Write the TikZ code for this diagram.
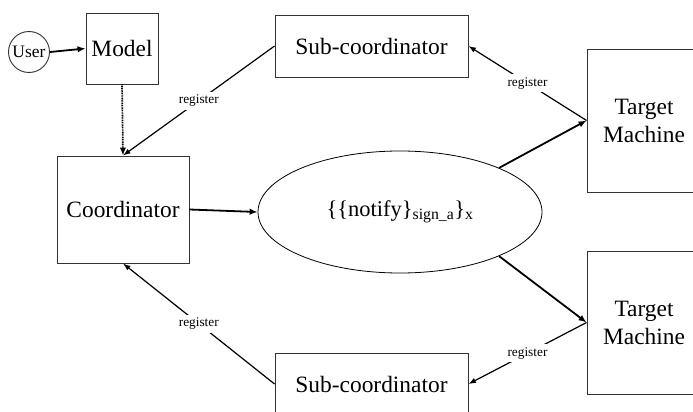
\documentclass[tikz,border=0pt]{standalone}
\usepackage{fontspec}
\setmainfont{Liberation Serif}
\usetikzlibrary{arrows.meta,shapes.geometric}
\tikzset{
  box/.style={draw=black!80, line width=0.9pt, inner sep=0pt, align=center,
    font=\fontsize{23.4}{28}\selectfont},
  boldarrow/.style={line width=1.8pt, -{Latex[length=8pt,width=6.5pt]}},
  regarrow/.style={line width=1.2pt, -{Latex[length=7.5pt,width=5.5pt]}},
  dotarrow/.style={line width=1.7pt, dash pattern=on 1pt off 0.7pt, -{Latex[length=8pt,width=6.5pt]}},
  reglabel/.style={fill=white, inner sep=3pt, font=\fontsize{13.3}{15}\selectfont}
}
\begin{document}
\begin{tikzpicture}[x=1pt,y=-1pt]
  \clip (0,0) rectangle (693,412);
  \fill[white] (0,0) rectangle (693,412);

  % entities
  \node[draw=black!80, line width=0.9pt, circle, minimum size=41pt, inner sep=0pt,
        font=\fontsize{17.5}{20}\selectfont] (user) at (29,52) {User};
  \node[box, minimum width=72pt, minimum height=71pt] (model) at (122,48.5) {Model};
  \node[box, minimum width=132pt, minimum height=107pt] (coord) at (123,209.5) {Coordinator};
  \node[box, minimum width=193pt, minimum height=62pt] (subtop) at (371.5,46) {Sub-coordinator};
  \node[box, minimum width=193pt, minimum height=62pt] (subbot) at (371.5,384) {Sub-coordinator};
  \node[box, minimum width=114pt, minimum height=143pt] (tmtop) at (644,120.5) {Target\\Machine};
  \node[box, minimum width=114pt, minimum height=143pt] (tmbot) at (644,322.5) {Target\\Machine};
  \node[draw=black, line width=0.8pt, ellipse, minimum width=284pt, minimum height=122pt,
        inner sep=0pt, font=\fontsize{22.5}{26}\selectfont] (msg) at (400,212)
        {\{\{notify\}\textsubscript{sign\_a}\}\textsubscript{x}};

  % message flow
  \draw[boldarrow] (user.east) -- (model.west);
  \draw[dotarrow] (model.south) -- (coord.north);
  \draw[boldarrow] (coord.east) -- (msg.west);
  \draw[boldarrow] (msg.24) -- (tmtop.west);
  \draw[boldarrow] (msg.-24) -- (tmbot.west);

  % registration
  \draw[regarrow] (subtop.west) -- node[reglabel] {register} (coord.north);
  \draw[regarrow] (tmtop.west) -- node[reglabel] {register} (subtop.east);
  \draw[regarrow] (tmbot.west) -- node[reglabel] {register} (subbot.east);
  \draw[regarrow] (subbot.west) -- node[reglabel] {register} (coord.south);
\end{tikzpicture}
\end{document}
